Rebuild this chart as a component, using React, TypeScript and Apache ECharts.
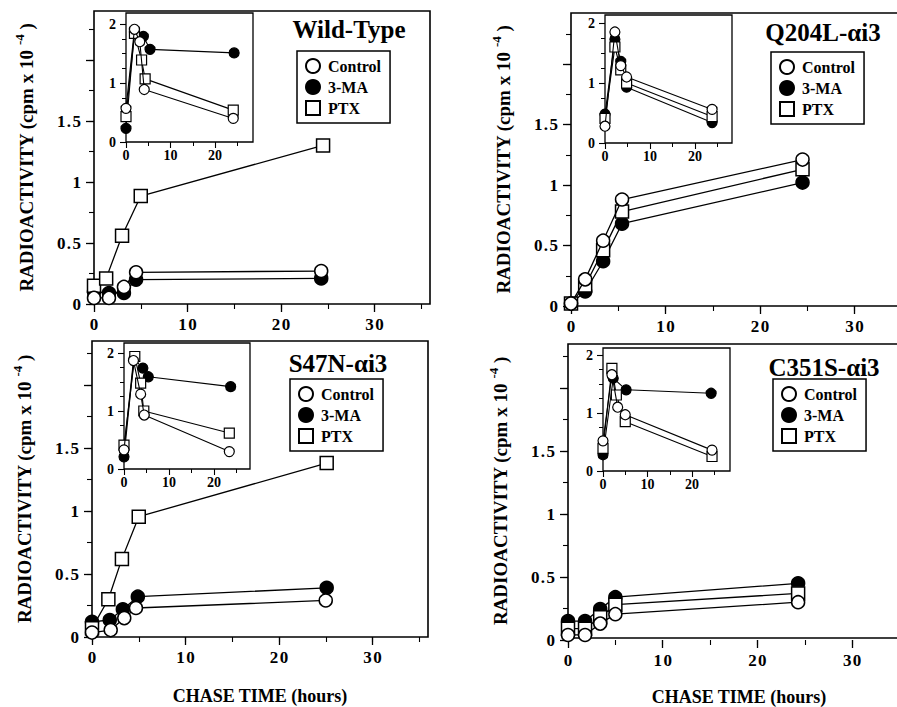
import React, { useEffect, useRef } from 'react';
import * as echarts from 'echarts';

const FONT = '"Liberation Serif", "Times New Roman", serif';

type Pt = [number, number];

// ---------- DATA (chase time in hours, radioactivity in cpm x 10^-4) ----------
// Wild-Type
const wtMainControl: Pt[] = [[0, 0.05], [1.6, 0.05], [3.2, 0.14], [4.5, 0.26], [24.3, 0.27]];
const wtMain3MA: Pt[] = [[0, 0.10], [1.6, 0.09], [3.2, 0.09], [4.5, 0.20], [24.3, 0.21]];
const wtMainPTX: Pt[] = [[0, 0.15], [1.3, 0.21], [3.0, 0.56], [5.0, 0.885], [24.5, 1.30]];
const wtInsetControl: Pt[] = [[0, 0.57], [1.9, 1.91], [3.1, 1.70], [4.1, 0.89], [24.1, 0.40]];
const wtInset3MA: Pt[] = [[0, 0.23], [1.9, 1.86], [3.9, 1.79], [5.4, 1.57], [24.3, 1.51]];
const wtInsetPTX: Pt[] = [[0, 0.43], [1.9, 1.84], [3.5, 1.39], [4.3, 1.07], [24.1, 0.54]];

// Q204L-αi3
const qMainControl: Pt[] = [[0, 0.02], [1.5, 0.22], [3.4, 0.54], [5.4, 0.88], [24.5, 1.21]];
const qMain3MA: Pt[] = [[0, 0.02], [1.5, 0.12], [3.4, 0.37], [5.4, 0.68], [24.5, 1.02]];
const qMainPTX: Pt[] = [[0, 0.02], [1.5, 0.17], [3.4, 0.46], [5.4, 0.78], [24.5, 1.13]];
const qInsetControl: Pt[] = [[0, 0.28], [2.2, 1.85], [3.5, 1.29], [4.8, 1.10], [23.8, 0.56]];
const qInset3MA: Pt[] = [[0, 0.48], [2.2, 1.73], [3.5, 1.36], [4.8, 0.93], [23.8, 0.34]];
const qInsetPTX: Pt[] = [[0, 0.41], [2.2, 1.60], [3.5, 1.22], [4.8, 1.00], [23.8, 0.44]];

// S47N-αi3
const sMainControl: Pt[] = [[0, 0.035], [2.0, 0.055], [3.45, 0.15], [4.7, 0.23], [25.0, 0.29]];
const sMain3MA: Pt[] = [[0, 0.12], [1.9, 0.135], [3.3, 0.22], [4.9, 0.32], [25.1, 0.39]];
const sMainPTX: Pt[] = [[0, 0.07], [1.75, 0.30], [3.2, 0.62], [5.0, 0.955], [25.1, 1.38]];
const sInsetControl: Pt[] = [[0, 0.33], [2.1, 1.87], [3.7, 1.29], [4.5, 0.93], [23.4, 0.30]];
const sInset3MA: Pt[] = [[0, 0.21], [2.2, 1.90], [4.2, 1.74], [5.4, 1.59], [23.7, 1.42]];
const sInsetPTX: Pt[] = [[0, 0.41], [2.4, 1.94], [3.7, 1.48], [4.4, 1.00], [23.4, 0.62]];

// C351S-αi3
const cMainControl: Pt[] = [[0, 0.04], [1.8, 0.04], [3.4, 0.13], [5.0, 0.205], [24.3, 0.30]];
const cMain3MA: Pt[] = [[0, 0.15], [1.8, 0.15], [3.4, 0.245], [5.0, 0.34], [24.3, 0.45]];
const cMainPTX: Pt[] = [[0, 0.09], [1.8, 0.09], [3.4, 0.18], [5.0, 0.28], [24.3, 0.37]];
const cInsetControl: Pt[] = [[0, 0.52], [2.0, 1.66], [3.3, 1.10], [5.0, 0.97], [24.5, 0.36]];
const cInset3MA: Pt[] = [[0, 0.28], [2.3, 1.60], [5.2, 1.40], [24.3, 1.34]];
const cInsetPTX: Pt[] = [[0, 0.39], [2.0, 1.77], [3.0, 1.31], [5.0, 0.85], [24.5, 0.25]];

const panelTitles = ['Wild-Type', 'Q204L-\u03b1i3', 'S47N-\u03b1i3', 'C351S-\u03b1i3'];
const seriesNames = ['Control', '3-MA', 'PTX'];
const mainXTicks = [0, 10, 20, 30];
const mainYTickLabels = ['0', '0.5', '1', '1.5'];
const insetXTicks = [0, 10, 20];
const insetYTicks = [0, 1, 2];
const xTitle = 'CHASE TIME (hours)';

const panelData = [
  { main: [wtMainControl, wtMain3MA, wtMainPTX], inset: [wtInsetControl, wtInset3MA, wtInsetPTX] },
  { main: [qMainControl, qMain3MA, qMainPTX], inset: [qInsetControl, qInset3MA, qInsetPTX] },
  { main: [sMainControl, sMain3MA, sMainPTX], inset: [sInsetControl, sInset3MA, sInsetPTX] },
  { main: [cMainControl, cMain3MA, cMainPTX], inset: [cInsetControl, cInset3MA, cInsetPTX] },
];

// ---------- LAYOUT (pixels) ----------
const layouts = [
  {
    main: { x0: 94, y0: 304, px: 9.35, py: 122, top: 11, right: 430 },
    inset: { x0: 126, y0: 142, px: 4.45, py: 59, top: 13, right: 253 },
    legend: { left: 297, top: 51 }, title: { x: 349, y: 29 }, xName: false,
  },
  {
    main: { x0: 571, y0: 306, px: 9.45, py: 121, top: 13, right: 911 },
    inset: { x0: 605, y0: 143, px: 4.5, py: 60, top: 15, right: 732 },
    legend: { left: 771, top: 52 }, title: { x: 823, y: 32 }, xName: false,
  },
  {
    main: { x0: 92, y0: 637, px: 9.35, py: 126, top: 341, right: 428 },
    inset: { x0: 124, y0: 469, px: 4.5, py: 58, top: 343, right: 250 },
    legend: { left: 290, top: 379 }, title: { x: 338, y: 363 }, xName: true,
  },
  {
    main: { x0: 568, y0: 640, px: 9.47, py: 126, top: 344, right: 910 },
    inset: { x0: 603, y0: 471, px: 4.45, py: 58, top: 348, right: 730 },
    legend: { left: 773, top: 379 }, title: { x: 824, y: 367 }, xName: true,
  },
];

const symbolFor: Record<string, { symbol: string; fill: string }> = {
  Control: { symbol: 'circle', fill: '#ffffff' },
  '3-MA': { symbol: 'circle', fill: '#000000' },
  PTX: { symbol: 'rect', fill: '#ffffff' },
};

const HS = '\u200A';
const spaced = (s: string) => s.split('').join(HS);

function buildOption() {
  const grids: any[] = [];
  const xAxes: any[] = [];
  const yAxes: any[] = [];
  const series: any[] = [];
  const legends: any[] = [];
  const graphics: any[] = [];

  const hidden = {
    axisLine: { show: false },
    axisTick: { show: false },
    axisLabel: { show: false },
    splitLine: { show: false },
  };
  const tick = (len: number, w: number) => ({ show: true, length: len, inside: false, lineStyle: { color: '#000', width: w } });
  const label = (size: number, margin: number, formatter?: any) => ({
    show: true, margin, fontFamily: FONT, fontWeight: 'bold', fontSize: size, color: '#000',
    ...(formatter ? { formatter } : {}),
  });

  const addGrid = (rect: any, x: any, y: any) => {
    const i = grids.length;
    grids.push({ containLabel: false, ...rect });
    xAxes.push({ type: 'value', gridIndex: i, ...x });
    yAxes.push({ type: 'value', gridIndex: i, ...y });
    return i;
  };

  layouts.forEach((L, p) => {
    const m = L.main;
    // box with y-axis title (and x-axis title on bottom row)
    addGrid(
      { show: true, left: m.x0, top: m.top, width: m.right - m.x0, height: m.y0 - m.top, borderColor: '#000', borderWidth: 1.6, backgroundColor: 'transparent' },
      {
        min: 0, max: 1, ...hidden,
        name: L.xName ? xTitle : '', nameLocation: 'middle', nameGap: 50,
        nameTextStyle: { fontFamily: FONT, fontWeight: 'bold', fontSize: 18, color: '#000' },
      },
      {
        min: 0, max: 1, ...hidden,
        name: '{b|RADIOACTIVITY (cpm x 10 }{s|-4}{b| )}', nameLocation: 'middle', nameGap: 55, nameRotate: 90,
        nameTextStyle: {
          fontFamily: FONT, fontWeight: 'bold', fontSize: 19, color: '#000',
          rich: {
            b: { fontFamily: FONT, fontWeight: 'bold', fontSize: 19, color: '#000', lineHeight: 26 },
            s: { fontFamily: FONT, fontWeight: 'bold', fontSize: 13, color: '#000', lineHeight: 13, verticalAlign: 'top' },
          },
        },
      }
    );
    // major ticks + labels (data grid)
    const mainIdx = addGrid(
      { left: m.x0, top: m.y0 - 2 * m.py, width: 30 * m.px, height: 2 * m.py },
      {
        min: mainXTicks[0], max: mainXTicks[mainXTicks.length - 1], interval: 10,
        axisLine: { show: false }, axisTick: tick(8, 1.3), splitLine: { show: false },
        axisLabel: label(17, 12, (v: number) => spaced(String(v))),
      },
      {
        min: 0, max: 2, interval: 0.5,
        axisLine: { show: false }, axisTick: tick(8, 1.3), splitLine: { show: false },
        axisLabel: label(17, 13, (v: number) => {
          const s = String(v);
          return mainYTickLabels.includes(s) ? spaced(s) : '';
        }),
      }
    );
    // minor ticks
    addGrid(
      { left: m.x0, top: m.y0 - 2.25 * m.py, width: 35 * m.px, height: 2.25 * m.py },
      { min: 0, max: 35, interval: 5, axisLine: { show: false }, axisTick: tick(5, 1.1), axisLabel: { show: false }, splitLine: { show: false } },
      { min: 0, max: 2.25, interval: 0.25, axisLine: { show: false }, axisTick: tick(5, 1.1), axisLabel: { show: false }, splitLine: { show: false } }
    );

    const n = L.inset;
    // inset box
    addGrid(
      { show: true, left: n.x0, top: n.top, width: n.right - n.x0, height: n.y0 - n.top, borderColor: '#000', borderWidth: 1.3, backgroundColor: 'transparent' },
      { min: 0, max: 1, ...hidden },
      { min: 0, max: 1, ...hidden }
    );
    // inset major
    addGrid(
      { left: n.x0, top: n.y0 - 2 * n.py, width: 20 * n.px, height: 2 * n.py },
      {
        min: insetXTicks[0], max: insetXTicks[insetXTicks.length - 1], interval: 10,
        axisLine: { show: false }, axisTick: tick(6, 1.1), splitLine: { show: false }, axisLabel: label(14, 6),
      },
      {
        min: insetYTicks[0], max: insetYTicks[insetYTicks.length - 1], interval: 1,
        axisLine: { show: false }, axisTick: tick(6, 1.1), splitLine: { show: false }, axisLabel: label(14, 10),
      }
    );
    // inset minor (data grid)
    const insetIdx = addGrid(
      { left: n.x0, top: n.y0 - 2 * n.py, width: 25 * n.px, height: 2 * n.py },
      { min: 0, max: 25, interval: 5, axisLine: { show: false }, axisTick: tick(4, 1), axisLabel: { show: false }, splitLine: { show: false } },
      { min: 0, max: 2, interval: 0.25, axisLine: { show: false }, axisTick: tick(4, 1), axisLabel: { show: false }, splitLine: { show: false } }
    );

    // series: draw 3-MA first, then PTX, then Control on top
    const order = [1, 2, 0];
    order.forEach((k, zi) => {
      const name = seriesNames[k];
      const sym = symbolFor[name];
      const common = {
        type: 'line', name, symbol: sym.symbol, showAllSymbol: true, clip: false, silent: true,
        itemStyle: { color: sym.fill, borderColor: '#000', borderWidth: 1.5, opacity: 1 },
        lineStyle: { color: '#000', width: 1.3 },
        emphasis: { disabled: true },
        z: 2 + zi,
      };
      series.push({
        ...common, xAxisIndex: mainIdx, yAxisIndex: mainIdx, symbolSize: 13,
        data: panelData[p].main[k],
      });
      series.push({
        ...common, xAxisIndex: insetIdx, yAxisIndex: insetIdx, symbolSize: 10,
        itemStyle: { ...common.itemStyle, borderWidth: 1.2 },
        lineStyle: { color: '#000', width: 1.1 },
        data: panelData[p].inset[k],
      });
    });

    legends.push({
      left: L.legend.left, top: L.legend.top, orient: 'vertical',
      itemWidth: 14, itemHeight: 14, itemGap: 5, padding: [7, 9, 7, 8],
      borderColor: '#000', borderWidth: 1.5, backgroundColor: '#fff', selectedMode: false,
      textStyle: { fontFamily: FONT, fontWeight: 'bold', fontSize: 16, color: '#000', padding: [0, 0, 0, 3] },
      data: [
        { name: 'Control', icon: 'circle' },
        { name: '3-MA', icon: 'circle' },
        { name: 'PTX', icon: 'rect' },
      ],
    });

    graphics.push({
      type: 'text', x: L.title.x, y: L.title.y, z: 10,
      style: { text: panelTitles[p], font: `bold 25px ${FONT}`, fill: '#000', align: 'center', verticalAlign: 'middle' },
    });
  });

  return {
    animation: false,
    backgroundColor: '#ffffff',
    grid: grids,
    xAxis: xAxes,
    yAxis: yAxes,
    legend: legends,
    series,
    graphic: graphics,
  };
}

export default function App() {
  const ref = useRef<HTMLDivElement>(null);
  useEffect(() => {
    if (!ref.current) return;
    const chart = echarts.init(ref.current, null, { renderer: 'svg' });
    chart.setOption(buildOption() as any);
    return () => chart.dispose();
  }, []);
  return (
    <div style={{ position: 'absolute', left: 0, top: 0, width: 897, height: 707, overflow: 'hidden', background: '#fff' }}>
      <div ref={ref} style={{ width: 920, height: 707 }} />
    </div>
  );
}
